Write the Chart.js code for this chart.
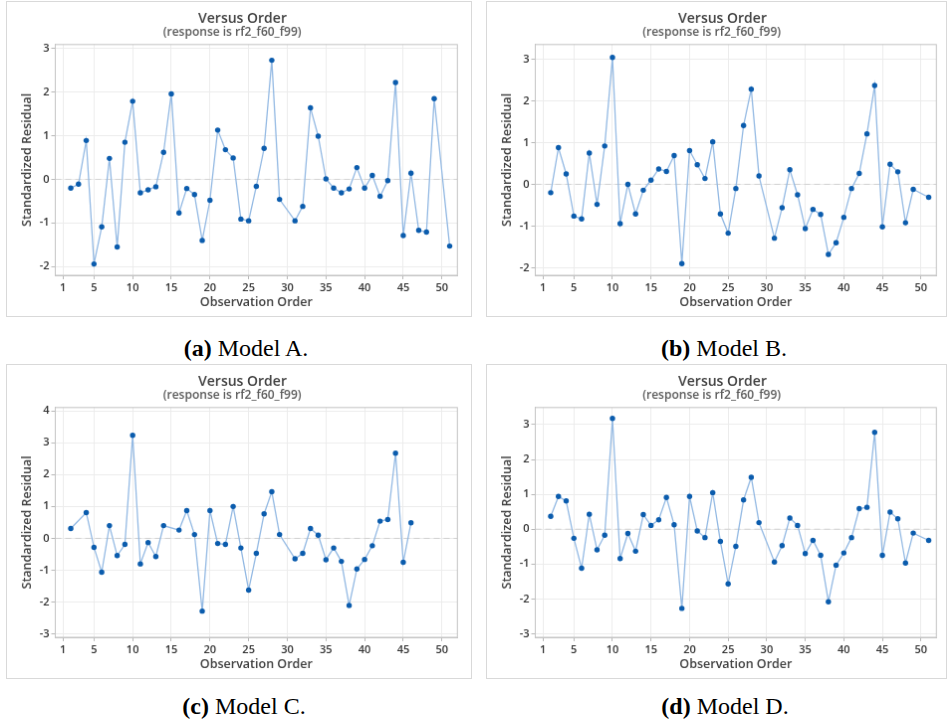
<!DOCTYPE html>
<html>
<head>
<meta charset="utf-8">
<script src="https://cdn.jsdelivr.net/npm/chart.js@4.4.1/dist/chart.umd.min.js"></script>
<style>
  body { margin: 0; background: #fff; width: 951px; height: 726px; position: relative; overflow: hidden; }
  canvas { position: absolute; border: 1px solid #d9d9d9; }
  .cap { position: absolute; width: 300px; text-align: center; font-family: "Liberation Serif", serif; font-size: 24px; line-height: 24px; color: #000; }
</style>
</head>
<body>
<canvas id="gA" width="466" height="316" style="left:6px;top:1px"></canvas>
<canvas id="gB" width="461" height="316" style="left:486px;top:1px"></canvas>
<canvas id="gC" width="466" height="315" style="left:6px;top:364px"></canvas>
<canvas id="gD" width="461" height="315" style="left:486px;top:364px"></canvas>
<div class="cap" style="left:96px;top:336px"><b>(a)</b> Model A.</div>
<div class="cap" style="left:574px;top:336px"><b>(b)</b> Model B.</div>
<div class="cap" style="left:94px;top:694px"><b>(c)</b> Model C.</div>
<div class="cap" style="left:575px;top:694px"><b>(d)</b> Model D.</div>
<script>
// observation order and standardized residuals
const obsA = [2,3,4,5,6,7,8,9,10,11,12,13,14,15,16,17,18,19,20,21,22,23,24,25,26,27,28,29,31,32,33,34,35,36,37,38,39,40,41,42,43,44,45,46,47,48,49,51];
const resA = [-0.20,-0.11,0.89,-1.94,-1.09,0.48,-1.55,0.85,1.79,-0.31,-0.24,-0.17,0.62,1.96,-0.77,-0.21,-0.35,-1.40,-0.48,1.13,0.68,0.49,-0.91,-0.95,-0.16,0.71,2.73,-0.46,-0.95,-0.62,1.64,0.99,0.01,-0.20,-0.31,-0.22,0.27,-0.20,0.09,-0.39,-0.03,2.22,-1.29,0.14,-1.17,-1.21,1.85,-1.53];

const obsB = [2,3,4,5,6,7,8,9,10,11,12,13,14,15,16,17,18,19,20,21,22,23,24,25,26,27,28,29,31,32,33,34,35,36,37,38,39,40,41,42,43,44,45,46,47,48,49,51];
const resB = [-0.20,0.88,0.25,-0.76,-0.83,0.75,-0.48,0.92,3.04,-0.94,0.00,-0.71,-0.14,0.10,0.37,0.31,0.69,-1.90,0.81,0.47,0.14,1.02,-0.71,-1.17,-0.10,1.41,2.28,0.20,-1.29,-0.56,0.35,-0.25,-1.06,-0.60,-0.72,-1.68,-1.40,-0.79,-0.10,0.26,1.21,2.37,-1.02,0.48,0.30,-0.92,-0.12,-0.31];

const obsC = [2,4,5,6,7,8,9,10,11,12,13,14,16,17,18,19,20,21,22,23,24,25,26,27,28,29,31,32,33,34,35,36,37,38,39,40,41,42,43,44,45,46];
const resC = [0.31,0.81,-0.28,-1.06,0.40,-0.54,-0.19,3.23,-0.80,-0.13,-0.57,0.40,0.26,0.87,0.12,-2.28,0.87,-0.16,-0.19,1.00,-0.30,-1.62,-0.47,0.77,1.46,0.12,-0.64,-0.47,0.31,0.10,-0.67,-0.30,-0.72,-2.10,-0.96,-0.66,-0.23,0.54,0.59,2.67,-0.75,0.49];

const obsD = [2,3,4,5,6,7,8,9,10,11,12,13,14,15,16,17,18,19,20,21,22,23,24,25,26,27,28,29,31,32,33,34,35,36,37,38,39,40,41,42,43,44,45,46,47,48,49,51];
const resD = [0.37,0.94,0.81,-0.26,-1.12,0.43,-0.59,-0.17,3.18,-0.84,-0.12,-0.63,0.42,0.11,0.27,0.91,0.13,-2.27,0.94,-0.05,-0.24,1.05,-0.35,-1.57,-0.49,0.84,1.49,0.19,-0.94,-0.47,0.32,0.11,-0.70,-0.32,-0.75,-2.08,-1.03,-0.68,-0.24,0.59,0.63,2.78,-0.75,0.49,0.30,-0.97,-0.11,-0.32];

// tick labels
const xTicks = [1,5,10,15,20,25,30,35,40,45,50];
const yTicksA = [-2,-1,0,1,2,3];
const yTicksB = [-2,-1,0,1,2,3];
const yTicksC = [-3,-2,-1,0,1,2,3,4];
const yTicksD = [-3,-2,-1,0,1,2,3];

const fonte = 'Open Sans';

// moldura do gráfico (topo e direita) + centraliza os títulos
const moldura = {
  id: 'moldura',
  afterLayout(chart) {
    [chart.titleBlock, chart.subtitleBlock].forEach(b => {
      if (b) { b.left = 0; b.right = 473; }
    });
  },
  afterDatasetsDraw(chart) {
    const a = chart.chartArea;
    const ctx = chart.ctx;
    ctx.save();
    ctx.strokeStyle = '#c4c4c4';
    ctx.lineWidth = 1;
    ctx.strokeRect(a.left, a.top, a.right - a.left, a.bottom - a.top);
    ctx.restore();
  }
};

function desenhaGrafico(id, obs, res, yTicks, yMin, yMax, padRight) {
  const pontos = obs.map((o, i) => ({ x: o, y: res[i] }));
  return new Chart(document.getElementById(id), {
    type: 'line',
    data: {
      datasets: [{
        data: pontos,
        borderColor: '#93b9e3',
        borderWidth: 1.3,
        pointBackgroundColor: '#0b5cad',
        pointBorderWidth: 0,
        pointRadius: 2.7,
        tension: 0,
        order: 1
      }, {
        data: [{ x: 0, y: 0 }, { x: 52, y: 0 }],
        borderColor: '#d2d2d2',
        borderWidth: 1,
        borderDash: [6, 4],
        pointRadius: 0,
        order: 2
      }]
    },
    options: {
      responsive: false,
      animation: false,
      layout: { padding: { top: 0, right: padRight, left: 0, bottom: 0 } },
      plugins: {
        legend: { display: false },
        tooltip: { enabled: false },
        title: {
          display: true,
          text: 'Versus Order',
          color: '#404040',
          font: { family: fonte, size: 14, weight: '600', lineHeight: 1 },
          padding: { top: 9.8, bottom: 0 }
        },
        subtitle: {
          display: true,
          text: '(response is rf2_f60_f99)',
          color: '#5a5a5a',
          font: { family: fonte, size: 12, weight: '600', lineHeight: 1 },
          padding: { top: 0.9, bottom: 6.1 }
        }
      },
      scales: {
        x: {
          type: 'linear',
          min: 0,
          max: 52,
          afterBuildTicks: (s) => { s.ticks = xTicks.map(v => ({ value: v })); },
          afterFit: (s) => { s.height = 41; },
          grid: { color: '#ececec', tickColor: '#b8b8b8', tickLength: 4 },
          border: { color: '#c4c4c4' },
          ticks: { color: '#333', font: { family: fonte, size: 11, weight: '600' }, padding: 2, maxRotation: 0 },
          title: {
            display: true,
            text: 'Observation Order',
            color: '#404040',
            font: { family: fonte, size: 12.5, weight: '600', lineHeight: 1.2 },
            padding: { top: 0, bottom: 6 }
          }
        },
        y: {
          min: yMin,
          max: yMax,
          afterBuildTicks: (s) => { s.ticks = yTicks.map(v => ({ value: v })); },
          afterFit: (s) => { s.width = 48.5; },
          grid: { color: '#ececec', tickColor: '#b8b8b8', tickLength: 4 },
          border: { color: '#c4c4c4' },
          ticks: { color: '#333', font: { family: fonte, size: 11, weight: '600' }, padding: 2 },
          title: {
            display: true,
            text: 'Standardized Residual',
            color: '#404040',
            font: { family: fonte, size: 12.5, weight: '600', lineHeight: 1.2 },
            padding: { top: 12.5, bottom: 0 }
          }
        }
      }
    },
    plugins: [moldura]
  });
}

desenhaGrafico('gA', obsA, resA, yTicksA, -2.2, 3.09, 13.7);
desenhaGrafico('gB', obsB, resB, yTicksB, -2.18, 3.35, 9.7);
desenhaGrafico('gC', obsC, resC, yTicksC, -3.1, 4.1, 13.7);
desenhaGrafico('gD', obsD, resD, yTicksD, -3.1, 3.49, 9.7);
</script>
</body>
</html>
